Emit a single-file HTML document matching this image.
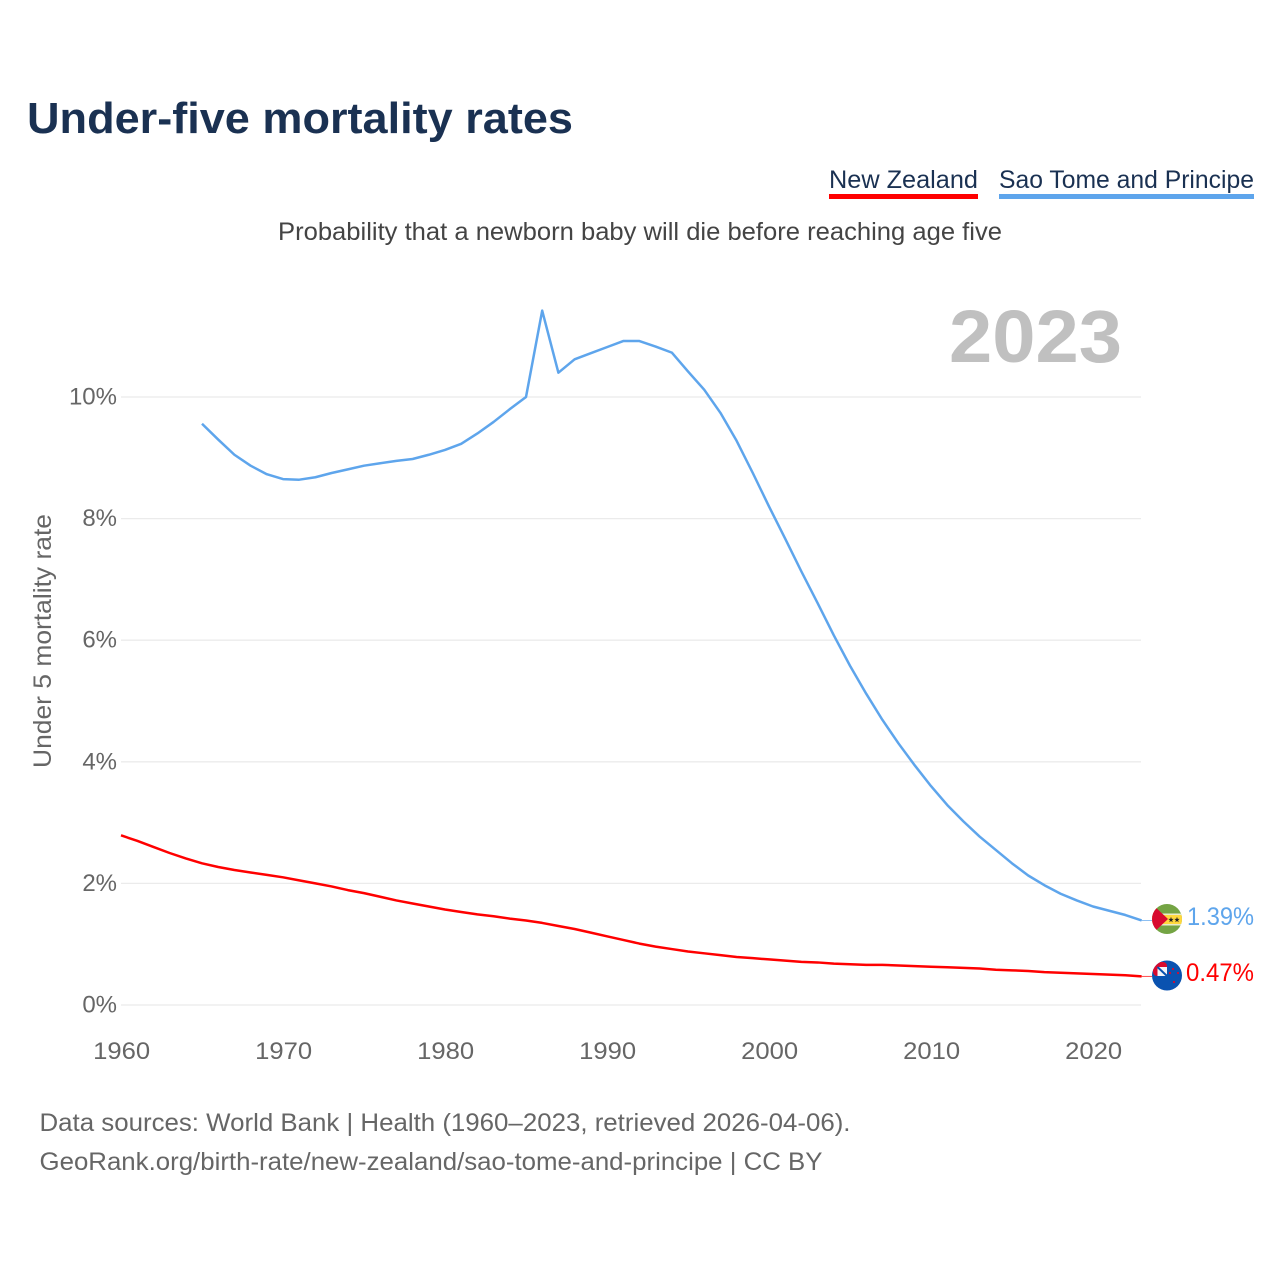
<!DOCTYPE html>
<html>
<head>
<meta charset="utf-8">
<style>
html,body{margin:0;padding:0;background:#fff;width:1280px;height:1280px;overflow:hidden}
svg{display:block}
text{font-family:"Liberation Sans",sans-serif}
</style>
</head>
<body>
<svg id="chart" width="1280" height="1280" viewBox="0 0 1280 1280" xmlns="http://www.w3.org/2000/svg">
  <rect width="1280" height="1280" fill="#fff"/>
  <text x="27" y="133" font-size="44" font-weight="700" fill="#1a3152" textLength="546" lengthAdjust="spacingAndGlyphs">Under-five mortality rates</text>
  <g>
    <text x="829" y="188" font-size="25" fill="#1a3152" textLength="149" lengthAdjust="spacingAndGlyphs">New Zealand</text>
    <rect x="829" y="194" width="149" height="5" fill="#ff0000"/>
  </g>
  <g>
    <text x="999" y="188" font-size="25" fill="#1a3152" textLength="255" lengthAdjust="spacingAndGlyphs">Sao Tome and Principe</text>
    <rect x="999" y="194" width="255" height="5" fill="#5ea5ec"/>
  </g>
  <text x="278" y="240" font-size="25" fill="#444" textLength="724" lengthAdjust="spacingAndGlyphs">Probability that a newborn baby will die before reaching age five</text>
  <text x="949" y="362" font-size="74" font-weight="700" fill="#c0c0c0" textLength="173" lengthAdjust="spacingAndGlyphs">2023</text>
  <g id="grid"></g>
  <g id="yticks"></g>
  <g id="xticks"></g>
  <text transform="translate(51,768) rotate(-90)" x="0" y="0" font-size="25" fill="#666" textLength="254" lengthAdjust="spacingAndGlyphs">Under 5 mortality rate</text>
  <g id="series"></g>

  <defs>
    <clipPath id="clip-stp"><circle cx="1167" cy="919" r="15"/></clipPath>
    <clipPath id="clip-nz"><circle cx="1167" cy="975.5" r="15"/></clipPath>
  </defs>
  <g clip-path="url(#clip-stp)">
    <rect x="1152" y="904" width="30" height="30" fill="#74a444"/>
    <rect x="1152" y="913.5" width="30" height="1.5" fill="#e8eccb"/>
    <rect x="1152" y="924" width="30" height="1.5" fill="#e8eccb"/>
    <rect x="1152" y="915" width="30" height="9" fill="#ffd83d"/>
    <polygon points="1152,904 1168,919 1152,934" fill="#d80a2e"/>
    <polygon points="1171,916.8 1171.7,918.9 1173.7,918.9 1172.1,920.2 1172.7,922.2 1171,921 1169.3,922.2 1169.9,920.2 1168.3,918.9 1170.3,918.9" fill="#222"/>
    <polygon points="1177,916.8 1177.7,918.9 1179.7,918.9 1178.1,920.2 1178.7,922.2 1177,921 1175.3,922.2 1175.9,920.2 1174.3,918.9 1176.3,918.9" fill="#222"/>
  </g>
  <g>
    <g clip-path="url(#clip-nz)">
      <rect x="1152" y="960" width="30" height="31" fill="#0a52b0"/>
      <rect x="1153" y="962" width="14" height="14" rx="4" fill="#d80a2e"/>
      <rect x="1157.5" y="967" width="9.5" height="9" fill="#f4f4f8"/>
      <line x1="1157.5" y1="967" x2="1167" y2="976" stroke="#0a52b0" stroke-width="2"/>
      <circle cx="1173" cy="969" r="1.1" fill="#d80a2e"/>
      <circle cx="1178" cy="973" r="1.1" fill="#d80a2e"/>
      <circle cx="1170" cy="973" r="1.1" fill="#d80a2e"/>
      <circle cx="1174" cy="982" r="1.1" fill="#d80a2e"/>
    </g>
  </g>
  <text x="1187" y="925" font-size="25" fill="#5ea5ec" textLength="67" lengthAdjust="spacingAndGlyphs">1.39%</text>
  <text x="1186" y="981" font-size="25" fill="#ff0000" textLength="68" lengthAdjust="spacingAndGlyphs">0.47%</text>
  <text x="39.5" y="1131" font-size="25" fill="#666" textLength="811" lengthAdjust="spacingAndGlyphs">Data sources: World Bank | Health (1960–2023, retrieved 2026-04-06).</text>
  <text x="39.5" y="1170" font-size="25" fill="#666" textLength="783" lengthAdjust="spacingAndGlyphs">GeoRank.org/birth-rate/new-zealand/sao-tome-and-principe | CC BY</text>
</svg>
<script>
const xTickYears = [1960, 1970, 1980, 1990, 2000, 2010, 2020];
const yTickValues = [0, 2, 4, 6, 8, 10];
const nzStartYear = 1960;
const nzValues = [2.79,2.70,2.60,2.50,2.41,2.33,2.27,2.22,2.18,2.14,2.10,2.05,2.00,1.95,1.89,1.84,1.78,1.72,1.67,1.62,1.57,1.53,1.49,1.46,1.42,1.39,1.35,1.30,1.25,1.19,1.13,1.07,1.01,0.96,0.92,0.88,0.85,0.82,0.79,0.77,0.75,0.73,0.71,0.70,0.68,0.67,0.66,0.66,0.65,0.64,0.63,0.62,0.61,0.60,0.58,0.57,0.56,0.54,0.53,0.52,0.51,0.50,0.49,0.47];
const stpStartYear = 1965;
const stpValues = [9.56,9.30,9.05,8.87,8.73,8.65,8.64,8.68,8.75,8.81,8.87,8.91,8.95,8.98,9.05,9.13,9.23,9.40,9.59,9.80,10.0,11.42,10.40,10.62,10.72,10.82,10.92,10.92,10.83,10.73,10.42,10.12,9.74,9.28,8.75,8.20,7.67,7.13,6.61,6.08,5.58,5.12,4.69,4.30,3.94,3.60,3.29,3.02,2.77,2.55,2.33,2.13,1.97,1.83,1.72,1.62,1.55,1.48,1.39];

const SVG_NS = 'http://www.w3.org/2000/svg';
function xScale(year) { return 121 + (year - 1960) * 16.2; }
function yScale(v) { return 1005 - v * 60.8; }
function make(tag, attrs, parent, txt) {
  const el = document.createElementNS(SVG_NS, tag);
  for (const k in attrs) el.setAttribute(k, attrs[k]);
  if (txt !== undefined) el.textContent = txt;
  parent.appendChild(el);
  return el;
}
const grid = document.getElementById('grid');
const yticks = document.getElementById('yticks');
const xticks = document.getElementById('xticks');
const series = document.getElementById('series');

yTickValues.forEach(function (v) {
  const line = make('line', {x1: 121, x2: 1141, y1: yScale(v), y2: yScale(v), stroke: '#ebebeb', 'stroke-width': 1.3}, grid);
  
  
  const label = make('text', {x: 117, y: yScale(v) + 7.5, 'text-anchor': 'end', 'font-size': 24, fill: '#666'}, yticks, v + '%');
  
  
});
xTickYears.forEach(function (y) {
  const label = make('text', {x: xScale(y) + 0.7, y: 1059, 'text-anchor': 'middle', 'font-size': 24, fill: '#666', textLength: 57, lengthAdjust: 'spacingAndGlyphs'}, xticks, String(y));
  
  
});
function drawSeries(values, startYear, color, name) {
  const pts = values.map(function (v, i) { return xScale(startYear + i).toFixed(2) + ',' + yScale(v).toFixed(2); });
  const line = make('polyline', {points: pts.join(' '), fill: 'none', stroke: color, 'stroke-width': 2.5, 'stroke-linejoin': 'round'}, series);
  
  
  const last = values[values.length - 1];
  const lastYear = startYear + values.length - 1;
  const conn = make('line', {x1: xScale(lastYear), x2: 1152, y1: yScale(last), y2: yScale(last), stroke: color, 'stroke-width': 1, opacity: 0.7}, series);
  
  
}
drawSeries(nzValues, nzStartYear, '#ff0000', 'line-new-zealand');
drawSeries(stpValues, stpStartYear, '#5ea5ec', 'line-sao-tome');
</script>
</body>
</html>
